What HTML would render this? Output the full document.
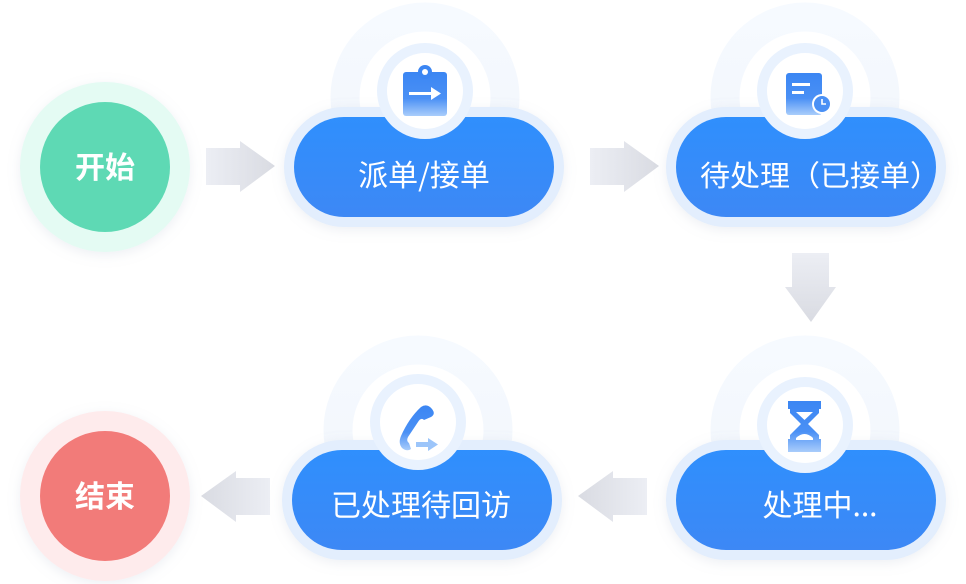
<!DOCTYPE html>
<html><head><meta charset="utf-8"><style>
html,body{margin:0;padding:0;background:#fff;}
svg{display:block;}
text{font-family:"Noto Sans CJK SC","Liberation Sans",sans-serif;}
</style></head><body>
<svg width="966" height="584" viewBox="0 0 966 584" xmlns="http://www.w3.org/2000/svg">
<defs>
<linearGradient id="pill" x1="0" y1="0" x2="0" y2="1"><stop offset="0" stop-color="#2f8ffd"/><stop offset="1" stop-color="#3d88f5"/></linearGradient>
<linearGradient id="halo" x1="0" y1="0" x2="0" y2="1"><stop offset="0" stop-color="#f6faff"/><stop offset="1" stop-color="#f1f5fb"/></linearGradient>
<linearGradient id="arrH" x1="0" y1="0" x2="1" y2="0"><stop offset="0" stop-color="#eceef4"/><stop offset="1" stop-color="#d9dbe2"/></linearGradient>
<linearGradient id="arrHL" x1="1" y1="0" x2="0" y2="0"><stop offset="0" stop-color="#eceef4"/><stop offset="1" stop-color="#d9dbe2"/></linearGradient>
<linearGradient id="arrV" x1="0" y1="0" x2="0" y2="1"><stop offset="0" stop-color="#eceef4"/><stop offset="1" stop-color="#d9dbe2"/></linearGradient>
<linearGradient id="ico" x1="0" y1="0" x2="0" y2="1"><stop offset="0" stop-color="#3b86f3"/><stop offset="0.6" stop-color="#4a90f5"/><stop offset="1" stop-color="#a9cdfb"/></linearGradient>
<filter id="sh" x="-20%" y="-30%" width="140%" height="160%"><feDropShadow dx="0" dy="3" stdDeviation="6" flood-color="#9aa7c0" flood-opacity="0.18"/></filter>
<clipPath id="top"><rect x="0" y="0" width="966" height="112"/></clipPath>
<clipPath id="top2"><rect x="0" y="330" width="966" height="115"/></clipPath>
</defs>

<circle cx="105" cy="167" r="85" fill="#e4fbf3" filter="url(#sh)"/>
<circle cx="105" cy="167" r="65" fill="#5ed9b4"/>
<text x="105" y="178" font-size="30" font-weight="bold" fill="#fff" text-anchor="middle">开始</text>
<circle cx="105" cy="496" r="85" fill="#feebec" filter="url(#sh)"/>
<circle cx="105" cy="496" r="65" fill="#f27b79"/>
<text x="105" y="507" font-size="30" font-weight="bold" fill="#fff" text-anchor="middle">结束</text>

<polygon points="206,148 240,148 240,141 275,166 240,192 240,185 206,185" fill="url(#arrH)"/>
<polygon points="590,148 624,148 624,141 659,166 624,192 624,185 590,185" fill="url(#arrH)"/>
<polygon points="792,253 829,253 829,287 836,287 811,322 785,287 792,287" fill="url(#arrV)"/>
<polygon points="270,478 236,478 236,471 201,496 236,522 236,515 270,515" fill="url(#arrHL)"/>
<polygon points="647,478 613,478 613,471 578,496 613,522 613,515 647,515" fill="url(#arrHL)"/>

<g clip-path="url(#top)">
<circle cx="425" cy="97" r="80" fill="none" stroke="url(#halo)" stroke-width="29"/>
<circle cx="805" cy="97" r="80" fill="none" stroke="url(#halo)" stroke-width="29"/>
</g>
<g clip-path="url(#top2)">
<circle cx="418" cy="430" r="80" fill="none" stroke="url(#halo)" stroke-width="29"/>
<circle cx="805" cy="430" r="80" fill="none" stroke="url(#halo)" stroke-width="29"/>
</g>

<rect x="284" y="107" width="280" height="120" rx="60" fill="#e3eefd" filter="url(#sh)"/>
<rect x="294" y="117" width="260" height="100" rx="50" fill="url(#pill)"/>
<circle cx="425" cy="91" r="48" fill="#e9f2fe"/>
<circle cx="425" cy="91" r="38" fill="#fff"/>
<rect x="403" y="72" width="44" height="44" rx="3" fill="url(#ico)"/>
<circle cx="425" cy="72" r="7" fill="#3b86f3"/><circle cx="425" cy="72" r="3" fill="#fff"/>
<rect x="409" y="92" width="24" height="3" fill="#fff"/><polygon points="431,87 441,93.5 431,100" fill="#fff"/>
<text x="424" y="186" font-size="30" fill="#fff" text-anchor="middle">派单/接单</text>

<rect x="666" y="107" width="280" height="120" rx="60" fill="#e3eefd" filter="url(#sh)"/>
<rect x="676" y="117" width="260" height="100" rx="50" fill="url(#pill)"/>
<circle cx="805" cy="91" r="48" fill="#e9f2fe"/>
<circle cx="805" cy="91" r="38" fill="#fff"/>
<rect x="786" y="73" width="36" height="42" rx="3" fill="url(#ico)"/>
<rect x="792" y="83" width="18" height="3" fill="#fff"/><rect x="792" y="91" width="12" height="3" fill="#fff"/>
<circle cx="822" cy="104" r="10" fill="#fff"/><circle cx="822" cy="104" r="8" fill="#4a90f5"/>
<path d="M822 99 v5 h4" stroke="#fff" stroke-width="1.6" fill="none"/>
<text x="820" y="186" font-size="29" fill="#fff" text-anchor="middle" textLength="240" lengthAdjust="spacingAndGlyphs">待处理（已接单）</text>

<rect x="666" y="440" width="280" height="120" rx="60" fill="#e3eefd" filter="url(#sh)"/>
<rect x="676" y="450" width="260" height="100" rx="50" fill="url(#pill)"/>
<circle cx="805" cy="425" r="48" fill="#e9f2fe"/>
<circle cx="805" cy="425" r="38" fill="#fff"/>
<path d="M788 401 h33 v8 h-2 v4 l-11 11 l11 11 v4 h2 v13 h-33 v-13 h2 v-4 l11 -11 l-11 -11 v-4 h-2 z" fill="url(#ico)"/>
<path d="M796 412 h17 l-8.5 8 z" fill="#fff"/><path d="M796 438 q8.5 -8 17 0 v2 h-17 z" fill="#fff"/>
<text x="820" y="516" font-size="30" fill="#fff" text-anchor="middle">处理中...</text>

<rect x="282" y="440" width="280" height="120" rx="60" fill="#e3eefd" filter="url(#sh)"/>
<rect x="292" y="450" width="260" height="100" rx="50" fill="url(#pill)"/>
<circle cx="418" cy="422" r="48" fill="#e9f2fe"/>
<circle cx="418" cy="422" r="38" fill="#fff"/>
<path d="M421 407 q6 -4 11 2 q4 5 -1 8 l-7 3 q-3 -3 -6 2 l-10 15 q-2 4 1 6 l2 6 q-4 3 -9 -1 q-4 -5 -1 -12 q8 -18 20 -29 z" fill="url(#ico)"/>
<rect x="416" y="442" width="14" height="5" fill="#9cc5fa"/><polygon points="428,438 438,444.5 428,451" fill="#9cc5fa"/>
<text x="421" y="516" font-size="30" fill="#fff" text-anchor="middle">已处理待回访</text>
</svg>
</body></html>
